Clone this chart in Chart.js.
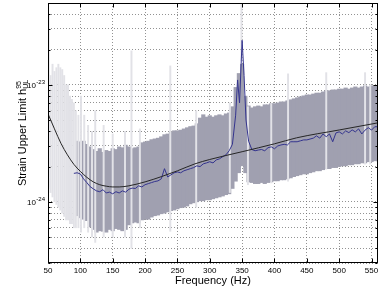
<!DOCTYPE html>
<html><head><meta charset="utf-8">
<script src="https://cdn.jsdelivr.net/npm/chart.js@4"></script>
<style>html,body{margin:0;padding:0;background:#fff}canvas{display:block}</style>
</head><body>
<canvas id="c" width="382" height="289"></canvas>
<script>
// ---- tick labels ----
const xTicks = [50,100,150,200,250,300,350,400,450,500,550];
const yTicks = [3e-25,4e-25,5e-25,6e-25,7e-25,8e-25,9e-25,
                1e-24,2e-24,3e-24,4e-24,5e-24,6e-24,7e-24,8e-24,9e-24,
                1e-23,2e-23,3e-23,4e-23,5e-23];
const yMajor = [1e-24,1e-23];
const yMajorExp = ['-24','-23'];

// ---- dark band: per-bin range of upper limits ----
const bandFreq = [95,100,105,110,115,120,125,130,135,140,145,150,155,160,165,170,175,180,185,190,
  195,200,205,210,215,220,225,230,235,240,245,250,255,260,265,270,275,280,285,290,
  295,300,305,310,315,320,325,330,335,340,345,350,355,360,365,370,375,380,385,390,
  395,400,405,410,415,420,425,430,435,440,445,450,455,460,465,470,475,480,485,490,
  495,500,505,510,515,520,525,530,535,540,545,550,555,560];
const bandHigh = [3.3e-24,3.25e-24,3.3e-24,3.1e-24,2.95e-24,2.8e-24,2.7e-24,2.85e-24,2.65e-24,2.75e-24,
  2.7e-24,2.85e-24,2.8e-24,2.95e-24,2.9e-24,3.05e-24,2.95e-24,2.85e-24,2.9e-24,2.95e-24,
  3.2e-24,3.25e-24,3.3e-24,3.4e-24,3.45e-24,3.5e-24,3.6e-24,3.75e-24,3.8e-24,3.95e-24,
  4.05e-24,4.05e-24,4.1e-24,4.2e-24,4.3e-24,4.4e-24,4.45e-24,4.65e-24,5.2e-24,5.55e-24,
  5.3e-24,5.45e-24,5.3e-24,5.45e-24,5.55e-24,5.45e-24,5.65e-24,5.75e-24,6.5e-24,9.5e-24,
  1.25e-23,1.5e-23,8e-24,6.6e-24,6.35e-24,6.5e-24,6.6e-24,6.5e-24,6.75e-24,6.75e-24,
  6.9e-24,6.9e-24,7.0e-24,7.15e-24,7.15e-24,7.3e-24,7.45e-24,7.6e-24,7.75e-24,7.9e-24,
  8.05e-24,8.2e-24,8.2e-24,8.35e-24,8.5e-24,8.5e-24,8.7e-24,8.9e-24,8.9e-24,9.05e-24,
  9.05e-24,9.2e-24,9.2e-24,9.4e-24,9.2e-24,9.4e-24,9.6e-24,9.4e-24,9.6e-24,9.8e-24,
  9.6e-24,9.8e-24,9.8e-24,9.8e-24];
const bandLow = [7.6e-25,7.3e-25,7.1e-25,6.9e-25,6.1e-25,5.8e-25,5.5e-25,5.65e-25,5.6e-25,5.5e-25,
  5.8e-25,5.65e-25,5.9e-25,5.8e-25,5.65e-25,5.8e-25,6.35e-25,6.6e-25,6.7e-25,6.6e-25,
  7.0e-25,7.1e-25,7.1e-25,7.4e-25,7.6e-25,7.7e-25,7.9e-25,8.0e-25,8.2e-25,8.4e-25,
  8.5e-25,8.7e-25,8.9e-25,9.0e-25,9.2e-25,9.6e-25,9.8e-25,1.0e-24,1.02e-24,1.02e-24,
  1.04e-24,1.04e-24,1.06e-24,1.08e-24,1.1e-24,1.12e-24,1.15e-24,1.17e-24,1.3e-24,1.5e-24,
  1.77e-24,2.03e-24,1.77e-24,1.48e-24,1.46e-24,1.43e-24,1.43e-24,1.46e-24,1.43e-24,1.46e-24,
  1.48e-24,1.51e-24,1.51e-24,1.54e-24,1.54e-24,1.57e-24,1.6e-24,1.64e-24,1.67e-24,1.7e-24,
  1.73e-24,1.73e-24,1.77e-24,1.8e-24,1.84e-24,1.84e-24,1.88e-24,1.92e-24,1.92e-24,1.96e-24,
  1.96e-24,2.0e-24,2.03e-24,2.03e-24,2.07e-24,2.07e-24,2.11e-24,2.11e-24,2.15e-24,2.15e-24,
  2.2e-24,2.2e-24,2.24e-24,2.24e-24];

// ---- light (vetoed) bins ----
const vetoFreq = [51,54,57,60,63,66,69,72,75,78,81,84,87,90,93,97,101,106,112,118,123,136,150,169,179,192,239,279,331,349,359,395,421,480,540,548];
const vetoHigh = [4.0e-23,1.2e-23,1.5e-23,1.3e-23,1.4e-23,1.5e-23,1.4e-23,1.35e-23,1.2e-23,1.0e-23,1.0e-23,8e-24,7.5e-24,7e-24,6e-24,5.5e-24,
  8e-24,5.5e-24,4.5e-24,4e-24,6e-24,4.5e-24,3.8e-24,4e-24,1.95e-23,4.2e-24,1.45e-23,6e-24,7e-24,5e-23,6.5e-24,6.9e-24,1.24e-23,1.27e-23,1.27e-23,1.0e-23];
const vetoLow = [1.3e-24,1.2e-24,1.1e-24,1.0e-24,9.5e-25,9e-25,8.5e-25,8e-25,7.5e-25,7e-25,7e-25,6.5e-25,6.5e-25,6e-25,6e-25,6e-25,
  5.5e-25,6e-25,5.5e-25,5e-25,4.5e-25,5e-25,5e-25,5e-25,4e-25,6e-25,5.6e-25,9e-25,1.2e-24,1.6e-23,1.4e-24,1.45e-24,1.5e-24,1.9e-24,2.1e-24,2.1e-24];

// ---- median upper limit (blue) ----
const medFreq = [90,95,100,105,110,115,120,125,130,135,140,145,150,155,160,165,170,175,180,185,
  190,195,200,205,210,215,220,225,230,235,240,245,250,255,260,265,270,275,280,285,
  290,295,300,305,310,315,320,325,330,335,340,343,346,350,353,356,360,365,370,375,
  380,385,390,395,400,405,410,415,420,425,430,435,440,445,450,455,460,465,470,475,
  480,485,490,495,500,505,510,515,520,525,530,535,540,545,550,555,560];
const medVal = [1.75e-24,1.77e-24,1.73e-24,1.57e-24,1.46e-24,1.35e-24,1.29e-24,1.24e-24,1.22e-24,1.27e-24,
  1.19e-24,1.21e-24,1.17e-24,1.22e-24,1.19e-24,1.24e-24,1.21e-24,1.28e-24,1.31e-24,1.30e-24,
  1.37e-24,1.34e-24,1.40e-24,1.43e-24,1.46e-24,1.49e-24,1.51e-24,1.57e-24,1.92e-24,1.63e-24,
  1.70e-24,1.77e-24,1.80e-24,1.77e-24,1.84e-24,1.88e-24,1.92e-24,1.96e-24,2.03e-24,2.0e-24,
  2.11e-24,2.15e-24,2.2e-24,2.15e-24,2.28e-24,2.33e-24,2.43e-24,2.52e-24,2.73e-24,3.1e-24,
  5.5e-24,1.1e-23,7e-24,2.4e-23,1.2e-23,5e-24,3.3e-24,2.8e-24,2.73e-24,2.77e-24,
  2.8e-24,2.73e-24,2.9e-24,2.95e-24,2.84e-24,3.0e-24,3.06e-24,3.1e-24,3.06e-24,3.26e-24,
  3.26e-24,3.26e-24,3.32e-24,3.38e-24,3.38e-24,3.44e-24,3.5e-24,3.66e-24,3.5e-24,3.8e-24,
  3.6e-24,3.8e-24,3.26e-24,3.88e-24,3.96e-24,3.8e-24,4.04e-24,3.9e-24,4.12e-24,3.96e-24,
  4.2e-24,3.8e-24,4.1e-24,4.3e-24,4.1e-24,4.38e-24,4.38e-24];

// ---- fitted curve (black) ----
const fitFreq = [50,60,70,80,90,100,110,120,130,140,150,160,175,200,225,250,277,300,350,400,434,500,560];
const fitVal = [5.65e-24,4.2e-24,3.16e-24,2.52e-24,2.09e-24,1.82e-24,1.62e-24,1.48e-24,1.40e-24,1.36e-24,1.34e-24,1.34e-24,1.37e-24,
  1.48e-24,1.64e-24,1.84e-24,2.11e-24,2.3e-24,2.68e-24,3.13e-24,3.52e-24,4.11e-24,4.73e-24];

const FONT = "'Liberation Sans', Arial, Helvetica, sans-serif";

const framePlugin = {
  id: 'frame',
  afterDraw(chart) {
    const {ctx, chartArea: a, scales: {x, y}} = chart;
    ctx.save();
    ctx.strokeStyle = '#000';
    ctx.lineWidth = 1;
    const L = Math.round(a.left) + 0.5, R = Math.round(a.right) - 0.5;
    const T = Math.round(a.top) + 0.5, B = Math.round(a.bottom) - 0.5;
    ctx.strokeRect(L, T, R - L, B - T);
    ctx.beginPath();
    xTicks.forEach(v => {
      const px = Math.round(x.getPixelForValue(v)) + 0.5;
      ctx.moveTo(px, B); ctx.lineTo(px, B - 4);
      ctx.moveTo(px, T); ctx.lineTo(px, T + 4);
    });
    yTicks.forEach(v => {
      const py = Math.round(y.getPixelForValue(v)) + 0.5;
      const len = yMajor.includes(v) ? 4 : 2;
      ctx.moveTo(L, py); ctx.lineTo(L + len, py);
      ctx.moveTo(R, py); ctx.lineTo(R - len, py);
    });
    ctx.stroke();

    // y tick labels with superscript exponent
    ctx.fillStyle = '#000';
    ctx.textAlign = 'right';
    ctx.textBaseline = 'alphabetic';
    yMajor.forEach((v, i) => {
      const py = y.getPixelForValue(v);
      ctx.font = '6px ' + FONT;
      const ws = ctx.measureText(yMajorExp[i]).width;
      ctx.fillText(yMajorExp[i], a.left - 3, py - 1);
      ctx.font = '8px ' + FONT;
      ctx.fillText('10', a.left - 3 - ws - 0.5, py + 3.5);
    });

    // y axis title with h^95_UL
    const cy = (a.top + a.bottom) / 2;
    ctx.translate(26, cy);
    ctx.rotate(-Math.PI / 2);
    ctx.textAlign = 'left';
    const main = 'Strain Upper Limit h';
    ctx.font = '11px ' + FONT;
    const wm = ctx.measureText(main).width;
    ctx.font = '7px ' + FONT;
    const w95 = ctx.measureText('95').width, wUL = ctx.measureText('UL').width;
    const total = wm + Math.max(w95, wUL);
    const x0 = -total / 2;
    ctx.font = '11px ' + FONT;
    ctx.fillText(main, x0, 0);
    ctx.font = '7px ' + FONT;
    ctx.fillText('95', x0 + wm, -5);
    ctx.fillText('UL', x0 + wm, 2);
    ctx.restore();
  }
};

new Chart(document.getElementById('c'), {
  type: 'bar',
  data: {
    datasets: [
      { type: 'line', label: 'fit', order: 0,
        data: fitFreq.map((f, i) => ({x: f, y: fitVal[i]})),
        borderColor: '#262626', borderWidth: 1, pointRadius: 0,
        cubicInterpolationMode: 'monotone', tension: 0.4 },
      { type: 'line', label: 'median', order: 1,
        data: medFreq.map((f, i) => ({x: f, y: medVal[i]})),
        borderColor: 'rgb(52,52,142)', borderWidth: 1, pointRadius: 0, tension: 0 },
      { type: 'bar', label: 'vetoed', order: 2, grouped: false,
        data: vetoFreq.map((f, i) => ({x: f, y: [vetoLow[i], vetoHigh[i]]})),
        backgroundColor: 'rgb(226,226,231)', barThickness: 1.3, borderWidth: 0 },
      { type: 'bar', label: 'band', order: 3, grouped: false,
        data: bandFreq.map((f, i) => ({x: f, y: [bandLow[i], bandHigh[i]]})),
        backgroundColor: 'rgb(160,160,176)', barThickness: 3.5, borderWidth: 0 }
    ]
  },
  options: {
    responsive: false, animation: false, devicePixelRatio: 1,
    layout: {padding: {top: 3, right: 4, left: 0, bottom: 0}},
    plugins: {legend: {display: false}, tooltip: {enabled: false}},
    scales: {
      x: {
        type: 'linear', min: 50, max: 560, offset: false,
        afterBuildTicks: s => { s.ticks = xTicks.map(v => ({value: v})); },
        afterFit: s => { s.height = 26; },
        grid: {color: 'rgba(110,110,110,0.75)', lineWidth: 1, drawTicks: false, offset: false},
        border: {display: false, dash: [1, 2]},
        ticks: {font: {family: FONT, size: 8}, color: '#000', padding: 3, maxRotation: 0, autoSkip: false},
        title: {display: true, text: 'Frequency (Hz)', font: {family: FONT, size: 11}, color: '#000', padding: {top: 0, bottom: 1}}
      },
      y: {
        type: 'logarithmic', min: 3e-25, max: 5e-23,
        afterBuildTicks: s => { s.ticks = yTicks.map(v => ({value: v})); },
        afterFit: s => { s.width = 48; },
        grid: {color: 'rgba(110,110,110,0.75)', lineWidth: 1, drawTicks: false},
        border: {display: false, dash: [1, 2]},
        ticks: {display: false}
      }
    }
  },
  plugins: [framePlugin]
});
</script>
</body></html>
